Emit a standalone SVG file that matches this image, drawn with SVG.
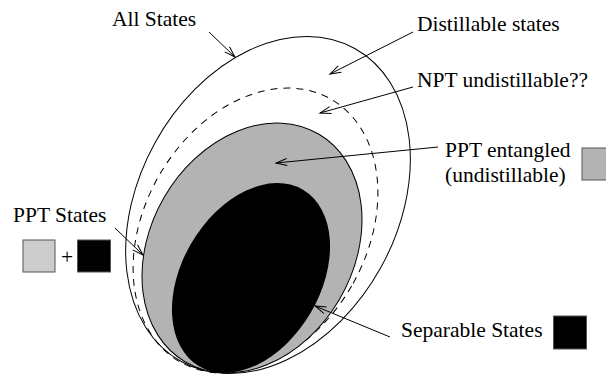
<svg xmlns="http://www.w3.org/2000/svg" width="606" height="377" viewBox="0 0 606 377">
<style>
text{font-family:"Liberation Serif","Times New Roman",serif;font-size:21.5px;fill:#000}
.ln{stroke:#000;stroke-width:1;fill:none}
.sw{stroke:#555;stroke-width:1}
</style>
<defs>
<marker id="ah" markerUnits="userSpaceOnUse" viewBox="-12 -6 14 12" markerWidth="14" markerHeight="12" refX="0" refY="0" orient="auto" overflow="visible">
<path d="M-11,-3.5 L0,0 L-11,3.5" fill="none" stroke="#000" stroke-width="1"/>
</marker>
</defs>
<rect width="606" height="377" fill="#fff"/>
<g id="all-states">
<ellipse cx="268" cy="205" rx="129" ry="179" transform="rotate(29 268 205)" class="ln"/>
</g>
<g id="npt-boundary">
<ellipse cx="255.5" cy="230.5" rx="111" ry="151.5" transform="rotate(30 255.5 230.5)" class="ln" stroke-dasharray="7,6"/>
</g>
<g id="ppt-entangled">
<ellipse cx="252" cy="248" rx="101.4" ry="132" transform="rotate(30.3 252 248)" fill="#b3b3b3" stroke="#000" stroke-width="1"/>
</g>
<g id="separable">
<ellipse cx="251" cy="278" rx="69.1" ry="102.4" transform="rotate(30.5 251 278)" fill="#000"/>
</g>
<g id="connectors">
<line x1="209" y1="32" x2="235" y2="57" class="ln" marker-end="url(#ah)"/>
<line x1="413" y1="32" x2="330" y2="74" class="ln" marker-end="url(#ah)"/>
<line x1="413" y1="87" x2="320" y2="113" class="ln" marker-end="url(#ah)"/>
<line x1="438" y1="147" x2="276" y2="163" class="ln" marker-end="url(#ah)"/>
<line x1="115" y1="228" x2="143" y2="255" class="ln" marker-end="url(#ah)"/>
<line x1="390" y1="337" x2="315" y2="306" class="ln" marker-end="url(#ah)"/>
</g>
<g id="label-all">
<text x="112" y="26">All States</text>
</g>
<g id="label-distillable">
<text x="417" y="31">Distillable states</text>
</g>
<g id="label-npt">
<text x="417" y="87">NPT undistillable??</text>
</g>
<g id="label-ppt-entangled">
<text x="445" y="157">PPT entangled</text>
<text x="445" y="182">(undistillable)</text>
<rect x="582" y="148" width="32" height="32" fill="#b3b3b3" class="sw"/>
</g>
<g id="label-ppt-states">
<text x="13" y="222">PPT States</text>
<rect x="23" y="240" width="32" height="32" fill="#cccccc" class="sw"/>
<text x="61" y="264">+</text>
<rect x="77.5" y="240" width="33" height="32" fill="#000" class="sw"/>
</g>
<g id="label-separable">
<text x="401" y="337">Separable States</text>
<rect x="553.5" y="316" width="33" height="33" fill="#000" class="sw"/>
</g>
</svg>
